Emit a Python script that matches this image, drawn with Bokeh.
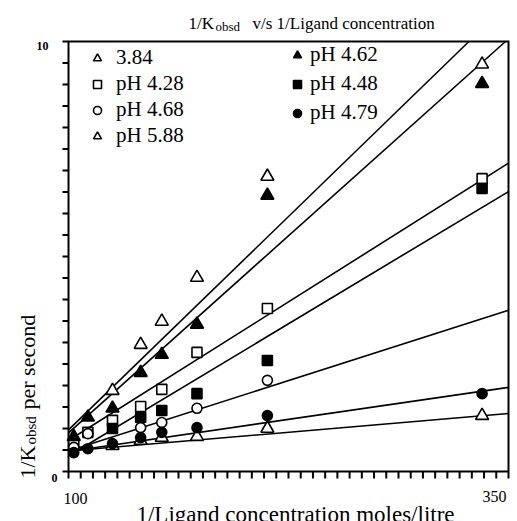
import numpy as np
from bokeh.plotting import figure
from bokeh.models import Label, Legend, LegendItem, Range1d
from bokeh.embed import file_html
from bokeh.resources import INLINE

# ---------------- data ----------------
labels = ["3.84", "pH 4.28", "pH 4.68", "pH 5.88", "pH 4.62", "pH 4.48", "pH 4.79"]

x_384 = [125, 141, 153, 173, 213, 335]
y_384 = [1.88, 2.95, 3.49, 4.51, 6.86, 9.47]
x_428 = [103, 111, 125, 141, 153, 173, 213, 335]
y_428 = [0.65, 0.91, 1.19, 1.51, 1.91, 2.77, 3.79, 6.81]
x_468 = [103, 111, 141, 153, 173, 213]
y_468 = [0.56, 0.88, 1.02, 1.14, 1.47, 2.12]
x_588 = [125, 141, 153, 173, 213, 335]
y_588 = [0.60, 0.72, 0.79, 0.81, 1.00, 1.30]
x_462 = [103, 111, 125, 141, 153, 173, 213, 335]
y_462 = [0.81, 1.26, 1.47, 2.30, 2.72, 3.42, 6.42, 9.02]
x_448 = [125, 141, 153, 173, 213, 335]
y_448 = [1.00, 1.26, 1.42, 1.81, 2.58, 6.58]
x_479 = [103, 111, 125, 141, 153, 173, 213, 335]
y_479 = [0.44, 0.53, 0.65, 0.79, 0.91, 1.02, 1.30, 1.81]

# fitted straight lines: value at x = 100 and slope
fit_at_100 = [0.967, 0.72, 0.477, 0.475, 0.90, 0.36, 0.467]
fit_slope = [0.0397, 0.0258, 0.0131, 0.0035, 0.03665, 0.0246, 0.00596]

x_lim = (100, 350)
y_lim = (0, 10)
x_tick_labels = ["100", "350"]
y_tick_labels = ["0", "10"]
x_minor_ticks = [float(v) for v in np.linspace(100, 350, 37)]
y_minor_ticks = [float(v) for v in np.arange(0, 10.01, 0.5)]

# ---------------- layout in canvas pixels ----------------
W, H = 517, 521
BOX_L, BOX_R, BOX_T, BOX_B = 68, 508, 41, 471   # where the data box sits on the canvas
kx = (BOX_R - BOX_L) / (x_lim[1] - x_lim[0])
ky = (BOX_B - BOX_T) / (y_lim[1] - y_lim[0])
xr = Range1d(x_lim[0] - BOX_L / kx, x_lim[1] + (W - BOX_R) / kx)
yr = Range1d(y_lim[0] - (H - BOX_B) / ky, y_lim[1] + BOX_T / ky)

def dx(px):  # canvas x pixel -> data x
    return xr.start + px / kx

def dy(py):  # canvas y pixel -> data y
    return yr.end - py / ky

SERIF = "Liberation Serif"
p = figure(width=W, height=H, output_backend="svg", toolbar_location=None,
           x_range=xr, y_range=yr, x_axis_location=None, y_axis_location=None,
           min_border=0)
p.title.visible = False
p.xgrid.visible = False
p.ygrid.visible = False
p.outline_line_color = None
p.background_fill_color = "white"
p.border_fill_color = "white"

# box with its tick marks, traced as one path:
# down the left edge (ticks pointing left), along the bottom (ticks pointing down),
# up the right edge and back along the top.
tick_left = 6.0 / kx
tick_down = 7.0 / ky
bx, by = [], []
for yv in sorted(y_minor_ticks, reverse=True):
    bx += [x_lim[0], x_lim[0] - tick_left, x_lim[0]]
    by += [yv, yv, yv]
for xv in sorted(x_minor_ticks):
    bx += [xv, xv, xv]
    by += [y_lim[0], y_lim[0] - tick_down, y_lim[0]]
bx += [x_lim[1], x_lim[0]]
by += [y_lim[1], y_lim[1]]
p.line(bx, by, line_color="black", line_width=2, line_join="miter")

xs_all = [x_384, x_428, x_468, x_588, x_462, x_448, x_479]
ys_all = [y_384, y_428, y_468, y_588, y_462, y_448, y_479]
markers = ["triangle", "square", "circle", "triangle", "triangle", "square", "circle"]
filled = [False, False, False, False, True, True, True]
sizes = [13, 10, 10, 13, 13, 10, 10]

for b, m in zip(fit_at_100, fit_slope):
    x0, x1 = x_lim
    y0, y1 = b + m * (x0 - 100), b + m * (x1 - 100)
    if y1 > y_lim[1]:          # stop at the top of the box
        x1 = x0 + (y_lim[1] - y0) / m
        y1 = y_lim[1]
    p.line([x0, x1], [y0, y1], line_color="black", line_width=1.6)

renderers = []
for xs, ys, mk, f, s in zip(xs_all, ys_all, markers, filled, sizes):
    r = p.scatter(xs, ys, marker=mk, size=s, line_color="black", line_width=1.6,
                  fill_color="black" if f else "white")
    renderers.append(r)

def make_legend(idx, sx, vy, standoff, spacing):
    items = [LegendItem(label=labels[i], renderers=[renderers[i]]) for i in idx]
    lg = Legend(items=items, location=(sx, vy), orientation="vertical",
                label_text_font=SERIF, label_text_font_size="21px", label_text_color="black",
                label_height=24, glyph_height=20, glyph_width=20,
                label_standoff=standoff, spacing=spacing, padding=0, margin=0,
                border_line_alpha=0, background_fill_alpha=0)
    p.add_layout(lg)

make_legend([0, 1, 2, 3], 87, 373, 9, 1)
make_legend([4, 5, 6], 287, 396, 3, 4)

def lab(text, px, py, size, align="left", baseline="alphabetic", angle=0.0, style="normal"):
    p.add_layout(Label(x=dx(px), y=dy(py), text=text,
                       text_font=SERIF, text_font_size=size, text_align=align,
                       text_baseline=baseline, angle=angle, text_font_style=style,
                       text_color="black"))

# title
lab("1/K", 188, 23, "17px")
lab("obsd", 215, 26, "13px")
lab("v/s 1/Ligand concentration", 252, 23, "17px")

# axis titles
lab("1/Ligand concentration moles/litre", 295, 514, "23px", align="center")
lab("1/K", 27, 478, "22px", angle=np.pi / 2)
lab("obsd", 30, 444, "15px", angle=np.pi / 2)
lab("per second", 27, 409, "22px", angle=np.pi / 2)

# tick labels
lab(y_tick_labels[1], 48, 45, "12px", align="right", style="bold")
lab(y_tick_labels[0], 57, 477, "12px", align="right", style="bold")
lab(x_tick_labels[0], 75, 498, "16px", align="center")
lab(x_tick_labels[1], 494, 496, "16px", align="center")

open("out.html", "w").write(file_html(p, INLINE))
